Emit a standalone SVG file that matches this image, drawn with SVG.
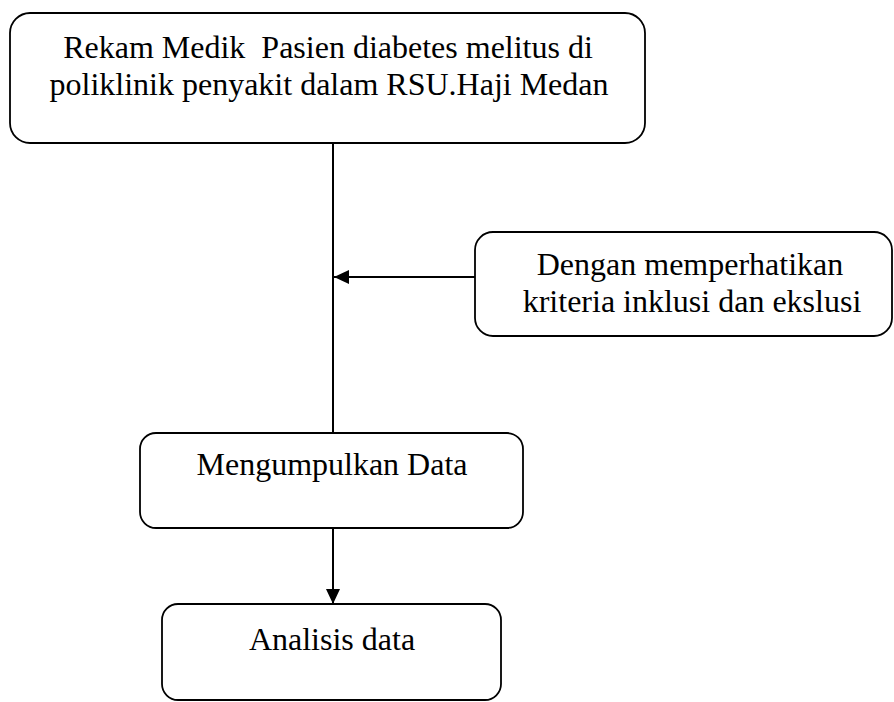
<svg xmlns="http://www.w3.org/2000/svg" width="894" height="702" viewBox="0 0 894 702">
<style>
.box{fill:#fff;stroke:#000;stroke-width:1.8}
.t{font-family:"Liberation Serif","Times New Roman",serif;font-size:32px;fill:#000;text-anchor:middle;white-space:pre}
.c{stroke:#000;stroke-width:2;fill:none}
</style>
<defs>
<marker id="ah" markerWidth="16" markerHeight="14" refX="15" refY="7" orient="auto" markerUnits="userSpaceOnUse">
<path d="M0,0 L15,7 L0,14 Z" fill="#000"/>
</marker>
</defs>
<rect width="894" height="702" fill="#fff"/>
<g id="connectors">
<line class="c" x1="333" y1="143" x2="333" y2="433"/>
<line class="c" x1="475" y1="277" x2="334" y2="277" marker-end="url(#ah)"/>
<line class="c" x1="333" y1="528" x2="333" y2="604" marker-end="url(#ah)"/>
</g>
<g id="node-rekam">
<rect class="box" x="10" y="13" width="635" height="130" rx="20"/>
<text class="t" x="328" y="58" xml:space="preserve">Rekam Medik  Pasien diabetes melitus di</text>
<text class="t" x="329" y="95">poliklinik penyakit dalam RSU.Haji Medan</text>
</g>
<g id="node-kriteria">
<rect class="box" x="475" y="232" width="417" height="104" rx="18"/>
<text class="t" x="690" y="275">Dengan memperhatikan</text>
<text class="t" x="692" y="312">kriteria inklusi dan ekslusi</text>
</g>
<g id="node-mengumpulkan">
<rect class="box" x="140" y="433" width="383" height="95" rx="16"/>
<text class="t" x="332" y="475">Mengumpulkan Data</text>
</g>
<g id="node-analisis">
<rect class="box" x="162" y="604" width="339" height="96" rx="16"/>
<text class="t" x="332" y="650">Analisis data</text>
</g>
</svg>
